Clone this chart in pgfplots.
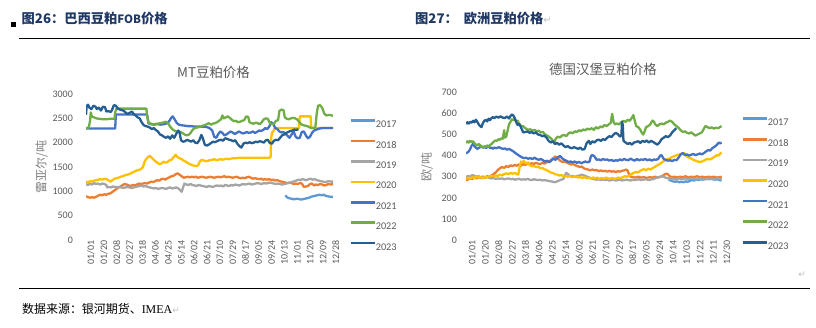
\documentclass[border=0pt]{standalone}
\usepackage{fontspec}
\setmainfont{Liberation Serif}
\newfontfamily\cjk{Noto Sans CJK SC}
\newfontfamily\calfont{Carlito}
\newfontfamily\dejavu{DejaVu Sans}
\usepackage{pgfplots}
\pgfplotsset{compat=1.18}
\definecolor{c17}{HTML}{5B9BD5}
\definecolor{c18}{HTML}{ED7D31}
\definecolor{c19}{HTML}{A5A5A5}
\definecolor{c20}{HTML}{FFC000}
\definecolor{c21}{HTML}{4472C4}
\definecolor{c22}{HTML}{70AD47}
\definecolor{c23}{HTML}{255E91}
\definecolor{navy}{HTML}{1F3864}
\definecolor{tickgray}{HTML}{595959}
\definecolor{labgray}{HTML}{7F7F7F}
\pgfplotsset{
  mychart/.style={
    anchor=south west, scale only axis,
    axis line style={draw=none}, major tick length=0pt, tick style={draw=none},
    /pgf/number format/assume math mode=true,
    /pgf/number format/1000 sep={},
    scaled y ticks=false,
    ticklabel style={font=\calfont\fontsize{10}{10}\selectfont, text=tickgray},
    xtick={0,19,...,361},
    xticklabel style={rotate=90, anchor=east, inner sep=0pt, yshift=-5bp},
    every axis plot/.append style={line width=2.3bp, line join=round, no markers},
    legend image code/.code={\draw[#1, line width=2.6bp] (0bp,3.5bp) -- (24bp,3.5bp);},
    legend cell align=left,
  }
}
\begin{document}
\begin{tikzpicture}[x=1bp,y=1bp]
\useasboundingbox (0,0) rectangle (816,-327);
% header
\fill[black] (11,-22) rectangle (15.5,-26.5);
\node[anchor=west, inner sep=0pt, text=navy, font=\cjk\bfseries\fontsize{13.3}{14}\selectfont] at (21.5,-19) {图26：巴西豆粕{\fontsize{11.5}{12}\selectfont FOB}价格};
\node[anchor=west, inner sep=0pt, text=navy, font=\cjk\bfseries\fontsize{13.3}{14}\selectfont] at (415,-19) {图27：\hspace{6bp}欧洲豆粕价格{\dejavu\mdseries\fontsize{10}{10}\selectfont\color{lightgray}↵}};
\draw[line width=1.3bp] (19,-38.3) -- (810,-38.3);
\draw[line width=1.3bp] (19,-288.3) -- (810,-288.3);
\node[anchor=west, inner sep=0pt, font=\cjk\fontsize{12}{13}\selectfont] at (22,-309) {数据来源：银河期货、{\rmfamily IMEA}{\dejavu\fontsize{9}{9}\selectfont\color{lightgray}↵}};
\node[anchor=center, inner sep=0pt, font=\dejavu\fontsize{9}{9}\selectfont, text=lightgray] at (802,-275) {↵};
% titles and y labels
\node[font=\cjk\fontsize{13.5}{14}\selectfont, text=tickgray] at (213.5,-72) {MT豆粕价格};
\node[font=\cjk\fontsize{13.5}{14}\selectfont, text=tickgray] at (603,-69) {德国汉堡豆粕价格};
\node[rotate=90, font=\cjk\fontsize{12}{12}\selectfont, text=labgray] at (41.7,-167) {雷亚尔/吨};
\node[rotate=90, font=\cjk\fontsize{12}{12}\selectfont, text=labgray] at (427,-167) {欧/吨};

% ---------------- left chart
\begin{axis}[mychart, at={(86bp,-240bp)}, width=247bp, height=146bp,
  xmin=0, xmax=364, ymin=0, ymax=3000, ytick={0,500,...,3000},
  yticklabel style={anchor=east, inner sep=0pt, xshift=-13bp},
  xticklabels={01/01,01/20,02/08,02/27,03/18,04/06,04/25,05/14,06/02,06/21,07/10,07/29,08/17,09/05,09/24,10/13,11/01,11/20,12/09,12/28},
  legend style={at={(1.0648,0.8274)}, anchor=north west, draw=none, fill=none, inner sep=0pt,
    row sep=12.1bp, font=\calfont\fontsize{10.3}{10}\selectfont, text=tickgray,
    nodes={inner sep=0pt, text height=7bp, text depth=0bp},
    /tikz/every even column/.append style={column sep=1bp}},
]
\addplot[c17] coordinates {(294,920) (296,880) (299,860) (302,850) (305,840) (308,840) (311,850) (314,840) (317,830) (320,840) (323,850) (326,860) (329,870) (332,890) (335,900) (338,910) (341,920) (344,930) (347,920) (350,930) (353,910) (356,900) (359,890) (362,890) (364,880)};
\addplot[c18] coordinates {(0,900) (3,880) (6,870) (9,880) (12,870) (15,890) (18,910) (21,930) (24,920) (27,940) (30,930) (33,950) (36,960) (39,990) (42,1020) (45,1050) (48,1080) (51,1100) (54,1130) (57,1150) (60,1140) (63,1120) (66,1110) (69,1130) (72,1120) (75,1140) (78,1160) (81,1150) (84,1160) (87,1170) (90,1160) (93,1180) (96,1200) (99,1190) (102,1210) (105,1230) (108,1220) (111,1250) (114,1260) (117,1240) (120,1270) (123,1290) (126,1310) (129,1320) (132,1350) (135,1370) (138,1340) (141,1310) (144,1280) (147,1290) (150,1300) (153,1290) (156,1300) (159,1290) (162,1300) (165,1280) (168,1290) (171,1300) (174,1290) (177,1280) (180,1290) (183,1300) (186,1290) (189,1280) (192,1290) (195,1300) (198,1290) (201,1300) (204,1310) (207,1290) (210,1300) (213,1290) (216,1280) (219,1290) (222,1300) (225,1280) (228,1270) (231,1280) (234,1270) (237,1290) (240,1300) (243,1280) (246,1260) (249,1270) (252,1260) (255,1250) (258,1260) (261,1240) (264,1250) (267,1240) (270,1250) (273,1230) (276,1240) (279,1220) (282,1230) (285,1210) (288,1200) (291,1190) (294,1180) (297,1170) (300,1180) (303,1170) (306,1150) (309,1160) (312,1150) (315,1170) (318,1160) (321,1090) (324,1100) (327,1110) (330,1150) (333,1160) (336,1120) (339,1140) (342,1130) (345,1150) (348,1140) (351,1120) (354,1130) (357,1150) (361,1140) (364,1150)};
\addplot[c19] coordinates {(0,1150) (3,1130) (6,1160) (9,1140) (12,1170) (15,1150) (18,1160) (21,1140) (24,1160) (27,1150) (30,1130) (31,1080) (34,1090) (37,1080) (40,1100) (43,1090) (46,1080) (49,1090) (52,1080) (55,1070) (58,1080) (61,1090) (64,1080) (67,1070) (70,1080) (73,1090) (76,1100) (79,1110) (82,1120) (85,1100) (88,1110) (91,1090) (94,1080) (97,1070) (100,1060) (103,1070) (106,1050) (109,1060) (112,1070) (115,1060) (118,1050) (121,1070) (124,1080) (127,1060) (130,1070) (133,1080) (136,1060) (139,1020) (141,990) (143,1080) (145,1160) (148,1140) (151,1130) (154,1150) (157,1130) (160,1120) (163,1110) (166,1130) (169,1120) (172,1110) (175,1100) (178,1090) (181,1110) (184,1100) (187,1090) (190,1110) (193,1120) (196,1110) (199,1120) (202,1100) (205,1130) (208,1120) (211,1110) (214,1130) (217,1120) (220,1140) (223,1130) (226,1120) (229,1140) (232,1150) (235,1140) (238,1150) (241,1160) (244,1140) (247,1150) (250,1160) (253,1170) (256,1160) (259,1150) (262,1170) (265,1160) (268,1170) (271,1180) (274,1170) (277,1160) (280,1150) (283,1160) (286,1150) (289,1140) (292,1150) (295,1160) (298,1170) (301,1180) (304,1190) (307,1210) (310,1220) (313,1240) (316,1230) (319,1250) (322,1240) (325,1230) (328,1250) (331,1260) (334,1240) (337,1250) (340,1230) (343,1220) (346,1210) (349,1200) (352,1190) (355,1200) (358,1210) (361,1200) (364,1200)};
\addplot[c20] coordinates {(0,1200) (3,1180) (6,1210) (9,1200) (12,1220) (15,1230) (18,1240) (21,1250) (24,1240) (27,1260) (30,1250) (33,1230) (36,1200) (39,1230) (42,1260) (45,1270) (48,1280) (51,1300) (54,1310) (57,1330) (60,1340) (63,1350) (66,1370) (69,1390) (72,1410) (75,1430) (78,1440) (81,1460) (84,1500) (86,1600) (88,1650) (91,1700) (94,1730) (96,1700) (99,1660) (102,1620) (105,1590) (108,1560) (111,1570) (114,1610) (117,1590) (120,1600) (123,1640) (126,1650) (129,1700) (132,1750) (135,1700) (138,1680) (141,1660) (144,1630) (147,1610) (150,1580) (153,1560) (156,1540) (159,1530) (162,1520) (165,1530) (168,1620) (171,1650) (174,1630) (177,1620) (180,1630) (183,1640) (186,1650) (189,1660) (192,1640) (195,1650) (198,1660) (201,1650) (204,1660) (207,1670) (210,1660) (213,1670) (216,1680) (220,1680) (225,1690) (230,1690) (240,1690) (250,1690) (260,1690) (270,1690) (272,1700) (273,2100) (274,2200) (276,2230) (278,2300) (314,2300) (315,2540) (331,2540) (332,2300) (364,2300)};
\addplot[c21] coordinates {(0,2290) (43,2290) (44,2580) (90,2580) (92,2400) (95,2380) (100,2370) (105,2380) (110,2370) (115,2380) (120,2400) (123,2450) (126,2520) (128,2540) (131,2470) (134,2400) (137,2370) (140,2360) (145,2350) (150,2340) (155,2340) (160,2330) (165,2330) (170,2330) (175,2330) (178,2320) (182,2300) (186,2250) (189,2120) (192,2100) (195,2180) (198,2230) (201,2200) (204,2150) (207,2170) (210,2200) (213,2230) (216,2210) (219,2180) (222,2200) (225,2230) (228,2210) (231,2190) (234,2200) (237,2220) (240,2200) (243,2210) (246,2230) (249,2200) (252,2220) (255,2250) (258,2240) (261,2260) (264,2300) (267,2280) (270,2330) (273,2420) (276,2380) (279,2300) (282,2280) (285,2230) (288,2210) (291,2220) (294,2180) (297,2140) (300,2100) (303,2170) (306,2230) (309,2120) (312,2090) (315,2100) (318,2220) (321,2230) (324,2150) (327,2090) (330,2120) (333,2200) (336,2250) (340,2270) (344,2290) (348,2300) (364,2300)};
\addplot[c22] coordinates {(0,2300) (4,2310) (6,2450) (7,2620) (9,2530) (12,2520) (15,2500) (20,2490) (25,2480) (30,2480) (35,2490) (40,2490) (42,2490) (43,2620) (45,2700) (50,2700) (60,2700) (70,2700) (80,2700) (89,2700) (90,2550) (92,2420) (95,2390) (100,2380) (105,2390) (110,2400) (115,2420) (118,2430) (121,2400) (124,2330) (127,2280) (130,2250) (133,2230) (136,2240) (139,2220) (142,2200) (145,2170) (148,2150) (151,2160) (154,2200) (157,2260) (160,2300) (163,2310) (166,2320) (169,2330) (172,2350) (175,2360) (178,2380) (181,2400) (184,2370) (187,2390) (190,2400) (193,2420) (196,2450) (199,2480) (201,2560) (203,2500) (206,2520) (209,2540) (212,2510) (215,2470) (218,2440) (221,2450) (224,2420) (227,2430) (230,2450) (233,2460) (236,2540) (239,2530) (241,2420) (244,2400) (247,2390) (250,2410) (253,2400) (256,2380) (259,2420) (262,2480) (265,2500) (268,2490) (271,2400) (274,2380) (277,2390) (280,2450) (283,2460) (285,2650) (288,2680) (291,2670) (293,2520) (296,2490) (299,2480) (302,2500) (305,2510) (308,2500) (311,2480) (314,2430) (317,2380) (320,2360) (323,2350) (326,2340) (329,2320) (332,2300) (335,2300) (338,2320) (340,2600) (342,2760) (345,2770) (348,2720) (351,2600) (354,2560) (358,2570) (362,2560) (364,2550)};
\addplot[c23] coordinates {(0,2570) (1,2750) (3,2780) (5,2720) (8,2690) (11,2760) (14,2740) (16,2690) (19,2720) (22,2660) (25,2740) (28,2730) (30,2640) (33,2650) (36,2630) (38,2660) (41,2770) (44,2760) (47,2700) (50,2680) (53,2670) (56,2650) (59,2610) (62,2590) (65,2620) (68,2640) (70,2590) (73,2560) (76,2520) (79,2500) (82,2420) (85,2360) (88,2340) (91,2330) (94,2310) (97,2280) (100,2300) (103,2260) (106,2230) (109,2170) (112,2150) (115,2120) (118,2100) (121,2130) (124,2080) (127,2150) (130,2100) (133,2180) (136,2250) (138,2200) (140,2050) (143,2020) (146,2030) (149,2060) (152,2040) (155,2020) (158,2050) (161,2000) (164,1990) (167,2050) (170,2160) (172,2100) (175,1960) (178,1940) (181,1960) (184,1990) (187,2020) (190,2010) (193,2030) (196,2050) (199,2060) (202,2040) (205,2090) (208,2080) (211,2060) (214,2050) (217,2030) (220,2050) (223,1980) (226,1930) (229,1900) (232,1980) (235,2000) (238,1990) (241,2010) (244,1990) (247,2000) (250,2020) (253,2010) (256,2030) (259,2020) (262,2000) (265,2050) (268,2060) (271,1990) (274,1980) (277,2040) (280,2060) (283,2050) (286,2100) (289,2150) (292,2170) (295,2200) (298,2220) (301,2240) (304,2250) (307,2270) (310,2260) (313,2280)};
\legend{2017,2018,2019,2020,2021,2022,2023}
\end{axis}

% ---------------- right chart
\begin{axis}[mychart, at={(466bp,-240bp)}, width=257bp, height=147.7bp,
  xmin=0, xmax=364, ymin=0, ymax=700, ytick={0,100,...,700},
  yticklabel style={anchor=east, inner sep=0pt, xshift=-9bp},
  xticklabel style={yshift=-1bp},
  xticklabels={01/01,01/20,02/08,02/27,03/18,04/06,04/25,05/14,06/02,06/21,07/10,07/29,08/17,09/05,09/24,10/14,11/03,11/22,12/11,12/30},
  legend style={at={(1.070,0.8314)}, anchor=north west, draw=none, fill=none, inner sep=0pt,
    row sep=12.3bp, font=\calfont\fontsize{10.3}{10}\selectfont, text=tickgray,
    nodes={inner sep=0pt, text height=7bp, text depth=0bp},
    /tikz/every even column/.append style={column sep=2bp}},
]
\addplot[c17] coordinates {(287,286) (290,282) (293,278) (296,276) (299,278) (302,274) (305,276) (308,274) (311,278) (314,276) (317,280) (320,284) (323,282) (326,286) (329,284) (332,288) (335,286) (338,288) (341,290) (344,288) (347,290) (350,288) (353,286) (356,288) (359,284) (362,282)};
\addplot[c18] coordinates {(0,282) (3,288) (6,292) (9,290) (12,296) (15,292) (18,298) (21,294) (24,300) (27,296) (30,302) (33,300) (36,306) (39,312) (42,320) (45,332) (48,340) (51,346) (54,342) (57,350) (60,346) (63,354) (66,350) (69,356) (72,352) (75,358) (78,352) (81,360) (84,356) (87,362) (90,358) (93,364) (96,360) (99,366) (102,362) (105,360) (108,366) (111,362) (114,368) (117,372) (120,378) (123,386) (126,396) (128,392) (131,384) (134,374) (137,370) (140,372) (143,366) (146,362) (149,358) (152,360) (155,354) (158,350) (161,346) (164,348) (167,340) (170,336) (173,334) (176,330) (179,334) (182,330) (185,332) (188,326) (191,330) (194,326) (197,328) (200,324) (203,328) (206,324) (209,326) (212,322) (215,326) (218,324) (221,328) (224,330) (227,334) (229,328) (231,310) (233,300) (236,298) (240,296) (244,300) (248,296) (252,298) (256,294) (260,298) (264,296) (268,300) (272,296) (276,300) (279,306) (282,312) (285,314) (288,304) (291,298) (295,300) (299,296) (303,300) (307,298) (311,302) (315,296) (319,300) (323,298) (327,302) (331,298) (335,300) (339,296) (343,300) (347,298) (351,300) (355,296) (359,298) (362,300)};
\addplot[c19] coordinates {(0,298) (3,304) (6,300) (9,308) (12,304) (15,300) (18,302) (21,298) (24,300) (27,296) (30,298) (33,294) (36,292) (39,294) (42,290) (45,292) (48,290) (51,292) (54,288) (57,290) (60,292) (63,288) (66,290) (69,286) (72,288) (75,290) (78,286) (81,288) (84,286) (87,290) (90,286) (93,284) (96,288) (99,286) (102,284) (105,286) (108,282) (111,284) (114,282) (117,280) (120,278) (123,276) (126,274) (129,278) (132,282) (135,286) (138,290) (140,306) (142,318) (144,314) (146,306) (149,302) (152,304) (155,300) (158,304) (161,306) (164,310) (167,306) (170,302) (173,298) (176,294) (179,290) (182,288) (185,286) (188,288) (191,284) (194,286) (197,284) (200,286) (203,282) (206,284) (209,286) (212,282) (215,284) (218,286) (221,282) (224,284) (227,286) (230,284) (233,282) (236,286) (239,284) (242,286) (245,288) (248,284) (251,286) (254,288) (257,286) (260,284) (263,288) (266,290) (269,294) (272,298) (275,300) (278,302) (281,298) (284,294) (287,292) (290,290) (293,292) (296,288) (299,290) (302,292) (305,288) (308,290) (311,292) (314,288) (317,290) (320,292) (323,290) (326,288) (329,290) (332,292) (335,290) (338,288) (341,290) (344,292) (347,290) (350,288) (353,290) (356,292) (359,290) (362,288)};
\addplot[c20] coordinates {(0,290) (3,295) (6,292) (9,298) (12,294) (15,300) (18,296) (21,298) (24,292) (27,300) (30,296) (33,302) (36,305) (39,300) (42,306) (45,304) (48,310) (51,306) (54,312) (57,316) (60,312) (63,318) (66,314) (69,318) (72,312) (74,310) (76,345) (78,372) (80,368) (82,374) (84,366) (86,362) (88,368) (90,355) (93,350) (96,352) (99,345) (102,348) (105,340) (108,342) (111,335) (114,332) (117,326) (120,320) (123,318) (126,312) (129,310) (132,306) (135,308) (138,302) (141,304) (144,300) (147,303) (150,298) (153,302) (156,300) (159,296) (162,298) (165,294) (168,298) (171,292) (174,295) (177,292) (180,296) (183,292) (186,295) (189,290) (192,294) (195,290) (198,296) (201,292) (204,290) (207,294) (210,290) (213,292) (216,296) (219,292) (222,298) (225,302) (228,300) (231,304) (234,312) (237,318) (240,322) (243,320) (246,326) (249,332) (252,336) (255,330) (258,338) (261,334) (264,340) (267,346) (270,352) (273,358) (276,364) (279,372) (282,376) (285,384) (288,386) (291,392) (294,396) (297,400) (300,404) (303,406) (306,410) (309,412) (311,404) (313,395) (316,390) (319,386) (322,380) (325,376) (328,372) (331,370) (334,372) (337,376) (340,382) (343,384) (346,382) (349,388) (352,395) (355,402) (358,400) (360,410) (362,414)};
\addplot[c21] coordinates {(0,410) (2,415) (4,420) (6,432) (8,448) (10,455) (12,445) (14,438) (16,432) (18,436) (20,440) (22,444) (24,438) (26,442) (28,436) (30,440) (32,444) (34,436) (36,438) (38,432) (40,438) (43,435) (46,440) (49,436) (52,432) (55,434) (58,428) (61,432) (64,426) (67,420) (70,412) (73,405) (76,398) (79,392) (82,388) (85,390) (88,385) (91,388) (94,384) (97,390) (100,384) (103,380) (106,384) (109,378) (112,372) (115,376) (118,368) (121,378) (124,385) (127,380) (130,392) (133,398) (136,388) (139,380) (142,376) (145,370) (148,372) (151,368) (154,372) (157,366) (160,370) (163,364) (166,368) (169,372) (172,368) (175,372) (177,398) (179,403) (182,396) (185,380) (188,382) (191,378) (194,384) (197,380) (200,382) (203,376) (206,380) (209,374) (212,378) (215,376) (218,382) (221,378) (224,384) (227,380) (230,378) (233,386) (236,380) (239,376) (242,384) (245,378) (248,382) (251,380) (254,384) (257,378) (260,382) (263,376) (266,382) (269,380) (272,384) (275,400) (277,402) (280,384) (283,380) (286,376) (289,378) (292,374) (295,380) (298,378) (301,390) (304,405) (307,412) (310,402) (313,406) (316,400) (319,404) (322,408) (325,402) (328,406) (331,410) (334,406) (337,412) (340,420) (343,426) (346,424) (349,436) (352,442) (355,450) (358,462) (360,458) (362,462)};
\addplot[c22] coordinates {(0,460) (2,468) (4,462) (6,470) (8,465) (10,468) (12,458) (14,452) (16,448) (18,455) (20,450) (22,442) (24,438) (26,445) (28,440) (30,448) (32,442) (34,450) (36,455) (38,462) (40,468) (42,472) (44,470) (46,478) (48,475) (50,482) (52,480) (54,520) (55,485) (57,490) (59,520) (61,550) (63,560) (65,572) (67,568) (69,575) (71,560) (73,565) (75,552) (77,545) (79,538) (81,540) (83,532) (85,528) (88,522) (91,525) (94,518) (97,522) (100,515) (103,518) (106,510) (109,512) (112,500) (115,495) (118,488) (121,480) (123,470) (125,462) (127,480) (130,490) (133,486) (136,495) (139,498) (142,492) (145,505) (148,510) (151,506) (154,515) (157,512) (160,520) (163,516) (166,524) (169,520) (172,528) (175,524) (178,530) (181,522) (184,535) (187,528) (190,538) (193,534) (196,545) (199,540) (202,548) (205,555) (207,598) (209,560) (211,548) (214,552) (217,548) (220,558) (223,565) (226,560) (229,570) (232,565) (235,580) (237,592) (239,565) (241,540) (244,535) (247,522) (249,508) (251,500) (253,515) (255,535) (258,540) (261,548) (264,566) (266,562) (268,548) (271,540) (274,548) (277,552) (280,548) (283,556) (286,560) (289,566) (292,560) (295,548) (298,540) (301,532) (304,520) (307,512) (310,515) (313,508) (316,505) (319,510) (322,502) (325,495) (328,500) (331,505) (334,510) (337,528) (339,540) (342,535) (345,530) (348,534) (351,528) (354,532) (357,530) (360,536) (362,540)};
\addplot[c23] coordinates {(0,550) (2,558) (4,552) (6,560) (8,556) (10,565) (12,558) (14,570) (16,560) (18,548) (20,540) (22,535) (24,555) (26,565) (28,570) (30,562) (32,575) (34,568) (36,578) (38,582) (40,578) (43,585) (46,580) (49,586) (52,580) (55,578) (58,585) (61,576) (63,588) (65,595) (67,590) (69,578) (71,560) (73,545) (75,550) (77,540) (79,525) (81,510) (84,512) (87,515) (90,508) (93,512) (96,505) (99,510) (102,500) (105,498) (108,492) (111,495) (114,485) (117,470) (120,462) (123,468) (126,455) (129,460) (132,452) (135,458) (138,448) (141,440) (144,445) (147,438) (150,435) (153,440) (156,436) (159,432) (162,438) (165,428) (168,432) (171,460) (174,470) (176,455) (179,468) (182,462) (185,472) (188,476) (191,470) (194,478) (197,474) (200,485) (203,492) (206,488) (209,500) (212,508) (215,502) (218,490) (220,495) (221,560) (222,545) (223,470) (226,462) (229,455) (232,460) (235,452) (238,462) (241,465) (244,468) (247,460) (250,470) (253,465) (256,472) (259,462) (262,470) (265,465) (268,458) (271,452) (274,462) (277,478) (280,485) (283,492) (286,488) (289,495) (292,510) (295,520) (298,530)};
\legend{2017,2018,2019,2020,2021,2022,2023}
\end{axis}
\end{tikzpicture}
\end{document}
